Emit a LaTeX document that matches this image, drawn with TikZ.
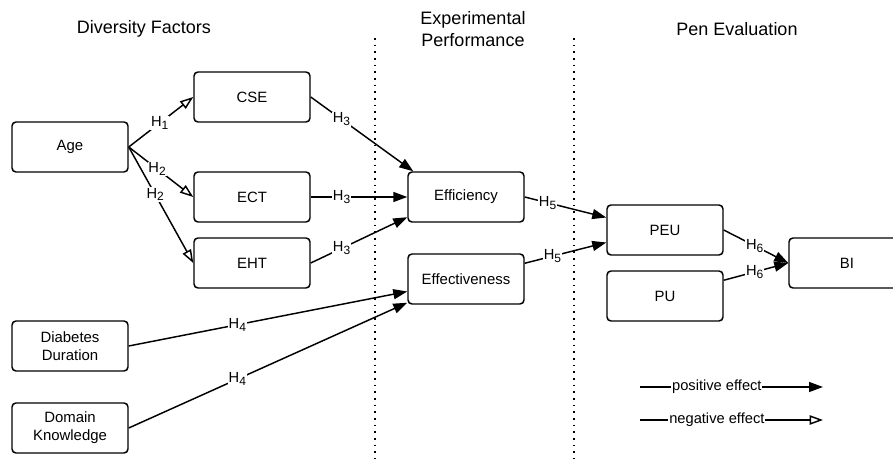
\documentclass[tikz,border=0pt]{standalone}
\usepackage{fontspec}
\setmainfont{Liberation Sans}
\usetikzlibrary{arrows.meta}
\tikzset{
	factor/.style={draw, rounded corners=3pt, line width=1.1pt, minimum width=87pt, minimum height=37.5pt, align=center, font=\fontsize{11.2}{13.5}\selectfont},
	heading/.style={align=center, font=\fontsize{13.5}{16}\selectfont},
	hlabel/.style={fill=white, inner sep=0.6pt, font=\fontsize{11}{12}\selectfont},
	posedge/.style={line width=1.1pt, -{Triangle[length=10.5pt,width=7.5pt]}},
	negedge/.style={line width=1.1pt, -{Triangle[open,length=10pt,width=7pt]}},
	divider/.style={line width=1.2pt, dash pattern=on 1.2pt off 3.8pt}
}
\newcommand{\hyp}[1]{H\raisebox{-0.35ex}{\fontsize{9}{9}\selectfont #1}}

\begin{document}
\begin{tikzpicture}[x=0.75pt, y=-0.75pt]
		%%%%% START %%%%%
		\useasboundingbox (0, 0) rectangle (893, 459);
		
		\node[heading] (headdiv) at (144, 29) {Diversity Factors};
		\node[heading] (headexp) at (473, 29) {Experimental\\Performance};
		\node[heading] (headpen) at (737, 29) {Pen Evaluation};
		
		\draw[divider] (375, 38) -- (375, 459);
		\draw[divider] (574, 38) -- (574, 459);
		
		\node[factor] (age) at (70, 147) {Age};
		\node[factor] (diab) at (70, 346) {Diabetes\\Duration};
		\node[factor] (domain) at (70, 428) {Domain\\Knowledge};
		
		\node[factor] (cse) at (252, 97) {CSE};
		\node[factor] (ect) at (252, 197) {ECT};
		\node[factor] (eht) at (252, 263) {EHT};
		
		\node[factor] (effic) at (466, 197) {Efficiency};
		\node[factor] (effect) at (466, 279) {Effectiveness};
		
		\node[factor] (peu) at (665, 230) {PEU};
		\node[factor] (pu) at (665, 296) {PU};
		\node[factor] (bi) at (847, 263) {BI};
		
		\draw[negedge] (age.east) -- node[hlabel, pos=0.48] {\hyp{1}} (cse.west);
		\draw[negedge] (age.east) -- node[hlabel, pos=0.44] {\hyp{2}} (ect.west);
		\draw[negedge] (age.east) -- node[hlabel, pos=0.41] {\hyp{2}} (eht.west);
		
		\draw[posedge] (cse.east) -- node[hlabel, pos=0.3] {\hyp{3}} (effic.154);
		\draw[posedge] (ect.east) -- node[hlabel, pos=0.32] {\hyp{3}} (effic.west);
		\draw[posedge] (eht.east) -- node[hlabel, pos=0.32] {\hyp{3}} (effic.199);
		
		\draw[posedge] (diab.east) -- node[hlabel, pos=0.39] {\hyp{4}} (effect.192);
		\draw[posedge] (domain.east) -- node[hlabel, pos=0.39] {\hyp{4}} (effect.202);
		
		\draw[posedge] (effic.east) -- node[hlabel, pos=0.28] {\hyp{5}} (peu.168);
		\draw[posedge] (effect.15) -- node[hlabel, pos=0.34] {\hyp{5}} (peu.192);
		
		\draw[posedge] (peu.east) -- node[hlabel, pos=0.48] {\hyp{6}} (bi.west);
		\draw[posedge] (pu.15) -- node[hlabel, pos=0.48] {\hyp{6}} (bi.west);
		
		\coordinate (posa) at (640, 387);
		\coordinate (posb) at (823, 387);
		\draw[posedge] (posa) -- node[hlabel, pos=0.42] {positive effect} (posb);
		\coordinate (nega) at (640, 420);
		\coordinate (negb) at (823, 420);
		\draw[negedge] (nega) -- node[hlabel, pos=0.42] {negative effect} (negb);
		
		%%%%% END %%%%%
\end{tikzpicture}
\end{document}
